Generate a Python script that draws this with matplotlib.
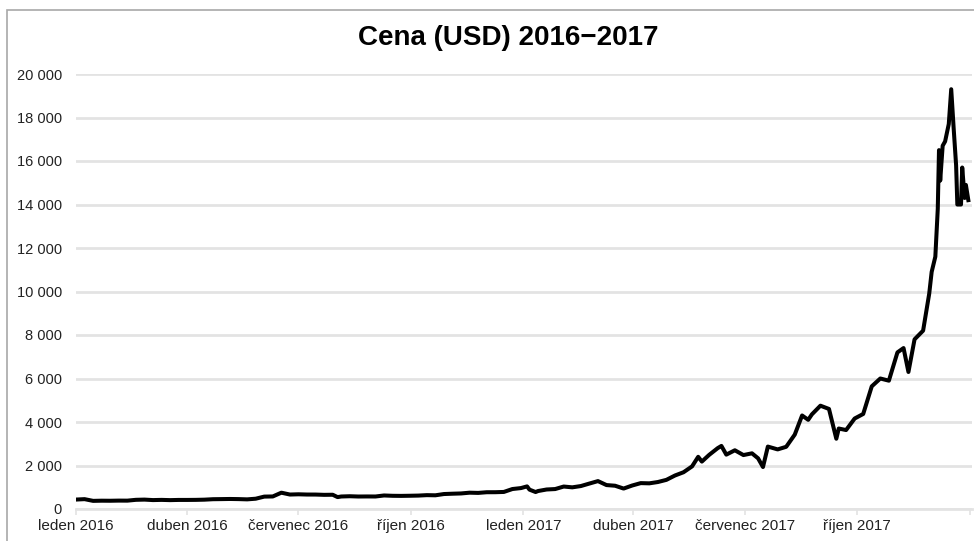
import matplotlib
matplotlib.use("Agg")
import matplotlib.pyplot as plt
from matplotlib.patches import Rectangle
from matplotlib.ticker import FuncFormatter
import pandas as pd

# data (weekly-ish closes, denser in Dec 2017)
dates = [
    "2016-01-01", "2016-01-08", "2016-01-15", "2016-01-22", "2016-01-29", "2016-02-05",
    "2016-02-12", "2016-02-19", "2016-02-26", "2016-03-04", "2016-03-11", "2016-03-18",
    "2016-03-25", "2016-04-01", "2016-04-08", "2016-04-15", "2016-04-22", "2016-04-29",
    "2016-05-06", "2016-05-13", "2016-05-20", "2016-05-27", "2016-06-03", "2016-06-10",
    "2016-06-17", "2016-06-24", "2016-07-01", "2016-07-08", "2016-07-15", "2016-07-22",
    "2016-07-29", "2016-08-02", "2016-08-05", "2016-08-12", "2016-08-19", "2016-08-26",
    "2016-09-02", "2016-09-09", "2016-09-16", "2016-09-23", "2016-09-30", "2016-10-07",
    "2016-10-14", "2016-10-21", "2016-10-28", "2016-11-04", "2016-11-11", "2016-11-18",
    "2016-11-25", "2016-12-02", "2016-12-09", "2016-12-16", "2016-12-23", "2016-12-30",
    "2017-01-04", "2017-01-06", "2017-01-11", "2017-01-13", "2017-01-20", "2017-01-27",
    "2017-02-03", "2017-02-10", "2017-02-17", "2017-02-24", "2017-03-03", "2017-03-10",
    "2017-03-17", "2017-03-24", "2017-03-31", "2017-04-07", "2017-04-14", "2017-04-21",
    "2017-04-28", "2017-05-05", "2017-05-12", "2017-05-19", "2017-05-24", "2017-05-27",
    "2017-06-02", "2017-06-09", "2017-06-12", "2017-06-16", "2017-06-23", "2017-06-30",
    "2017-07-07", "2017-07-12", "2017-07-16", "2017-07-20", "2017-07-28", "2017-08-04",
    "2017-08-11", "2017-08-17", "2017-08-22", "2017-08-25", "2017-09-01", "2017-09-08",
    "2017-09-14", "2017-09-16", "2017-09-22", "2017-09-29", "2017-10-06", "2017-10-13",
    "2017-10-20", "2017-10-27", "2017-11-03", "2017-11-08", "2017-11-12", "2017-11-17",
    "2017-11-24", "2017-11-29", "2017-12-01", "2017-12-04", "2017-12-06", "2017-12-07",
    "2017-12-08", "2017-12-10", "2017-12-12", "2017-12-15", "2017-12-17", "2017-12-19",
    "2017-12-21", "2017-12-22", "2017-12-25", "2017-12-26", "2017-12-28", "2017-12-29",
    "2017-12-31",
]
prices = [
    434, 453, 374, 382, 379, 386,
    384, 422, 432, 410, 419, 408,
    417, 417, 420, 429, 450, 455,
    461, 455, 443, 473, 570, 577,
    750, 665, 676, 665, 664, 651,
    655, 547, 575, 587, 574, 577,
    575, 622, 607, 603, 609, 617,
    637, 630, 688, 703, 715, 750,
    740, 771, 772, 784, 918, 962,
    1040, 890, 780, 826, 897, 917,
    1033, 996, 1055, 1170, 1283, 1100,
    1070, 940, 1080, 1190, 1180, 1240,
    1340, 1540, 1690, 1960, 2400, 2180,
    2490, 2800, 2900, 2500, 2700, 2480,
    2560, 2330, 1930, 2870, 2740, 2860,
    3420, 4300, 4100, 4350, 4750, 4600,
    3230, 3700, 3630, 4160, 4370, 5640,
    6000, 5900, 7200, 7400, 6300, 7800,
    8200, 9900, 10900, 11600, 13800, 16500,
    15100, 16700, 16900, 17700, 19300, 17500,
    15800, 14000, 14000, 15700, 14300, 14900,
    14200,
]

tick_dates = ["2016-01-01", "2016-04-01", "2016-07-01", "2016-10-01",
              "2017-01-01", "2017-04-01", "2017-07-01", "2017-10-01", "2018-01-01"]
tick_labels = ["leden 2016", "duben 2016", "červenec 2016", "říjen 2016",
               "leden 2017", "duben 2017", "červenec 2017", "říjen 2017", ""]

plt.rcParams["font.family"] = ["Liberation Sans", "DejaVu Sans"]

x = pd.to_datetime(dates)

fig = plt.figure(figsize=(9.74, 5.41), dpi=100)
ax = fig.add_axes([76 / 974, 1 - 509 / 541, (972 - 76) / 974, (509 - 74) / 541])

ax.plot(x, prices, color="black", lw=2.9, solid_joinstyle="round", zorder=3)

ax.set_xlim(pd.Timestamp("2016-01-01"), pd.Timestamp("2018-01-03"))
ax.set_ylim(0, 20000)
ax.set_yticks(range(0, 20001, 2000))
ax.yaxis.set_major_formatter(FuncFormatter(lambda v, p: f"{int(v):,}".replace(",", " ")))
ax.set_xticks(pd.to_datetime(tick_dates))
ax.set_xticklabels(tick_labels)

ax.grid(axis="y", color="#e3e3e3", lw=2.0)
ax.set_axisbelow(True)
for s in ["top", "right", "left"]:
    ax.spines[s].set_visible(False)
ax.spines["bottom"].set_color("#e3e3e3")
ax.spines["bottom"].set_linewidth(2.0)
ax.tick_params(axis="y", length=0, pad=10, labelsize=10.5, labelcolor="#222222")
ax.tick_params(axis="x", length=4, width=1.2, color="#e3e3e3", pad=3,
               labelsize=11, labelcolor="#222222")

fig.text(508 / 974, 1 - 38 / 541, "Cena (USD) 2016\u22122017", ha="center", va="center",
         fontsize=20, fontweight="bold")

# frame around figure
fig.patches.append(Rectangle((6.5 / 974, -0.1), 1.2, 1.1 - 10.5 / 541,
                             transform=fig.transFigure, fill=False,
                             edgecolor="#a8a8a8", lw=1.2))

fig.savefig("out.png", dpi=100)
